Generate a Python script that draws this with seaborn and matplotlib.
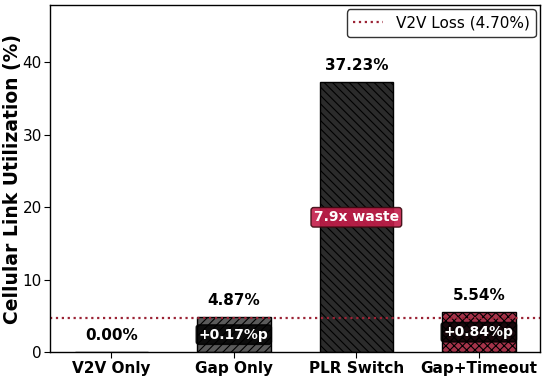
import matplotlib
matplotlib.use("Agg")
import matplotlib.pyplot as plt
import seaborn as sns
import pandas as pd

categories = ["V2V Only", "Gap Only", "PLR Switch", "Gap+Timeout"]
utilization = [0.00, 4.87, 37.23, 5.54]
value_labels = ["0.00%", "4.87%", "37.23%", "5.54%"]
inner_labels = [None, "+0.17%p", "7.9x waste", "+0.84%p"]
v2v_loss = 4.70

colors = ["#dddddd", "#5a5a5a", "#2b2b2b", "#b8203f"]
hatches = ["", "////", "\\\\\\\\", "xxxx"]

sns.set_style("white")
plt.rcParams['font.family'] = ['DejaVu Sans']
plt.rcParams['hatch.linewidth'] = 0.8
for k in ["text.color", "axes.labelcolor", "xtick.color", "ytick.color"]:
    plt.rcParams[k] = "black"

df = pd.DataFrame({"cat": categories, "val": utilization})
fig, ax = plt.subplots(figsize=(5.5, 3.78), dpi=100)
sns.barplot(data=df, x="cat", y="val", hue="cat", palette=colors, width=0.6,
            edgecolor="black", linewidth=1.0, legend=False, ax=ax)
for p, h in zip(ax.patches, hatches):
    p.set_hatch(h)

ax.axhline(v2v_loss, color="#9b2335", linestyle=":", linewidth=1.6, label=f"V2V Loss ({v2v_loss:.2f}%)")

for i, (v, lab) in enumerate(zip(utilization, value_labels)):
    ax.text(i, v + 1.3, lab, ha="center", va="bottom", fontsize=11, fontweight="bold")

for i, (v, lab) in enumerate(zip(utilization, inner_labels)):
    if lab is None:
        continue
    if i == 2:
        bbox = dict(boxstyle="round,pad=0.2", facecolor="#c41e4a", edgecolor="#3a0a10", alpha=0.9)
    else:
        bbox = dict(boxstyle="round,pad=0.2", facecolor="black", edgecolor="black", alpha=0.85)
    ax.text(i, v / 2, lab, ha="center", va="center", fontsize=10, fontweight="bold",
            color="white", bbox=bbox)

ax.set_ylim(0, 47.9)
ax.set_xlabel("")
ax.set_ylabel("Cellular Link Utilization (%)", fontsize=13.5, fontweight="bold")
ax.yaxis.set_label_coords(-0.057, 0.5)
for t in ax.get_xticklabels():
    t.set_fontweight("bold")
ax.tick_params(axis="x", labelsize=11, length=4, bottom=True, pad=2)
ax.tick_params(axis="y", labelsize=11, length=4, left=True, pad=2)
for s in ax.spines.values():
    s.set_color("black")
    s.set_linewidth(1.0)
ax.legend(loc="upper right", fontsize=11, frameon=True, edgecolor="black", fancybox=True,
          borderaxespad=0.3)

fig.subplots_adjust(left=0.091, right=0.982, top=0.987, bottom=0.068)
fig.savefig("out.png", dpi=100)
